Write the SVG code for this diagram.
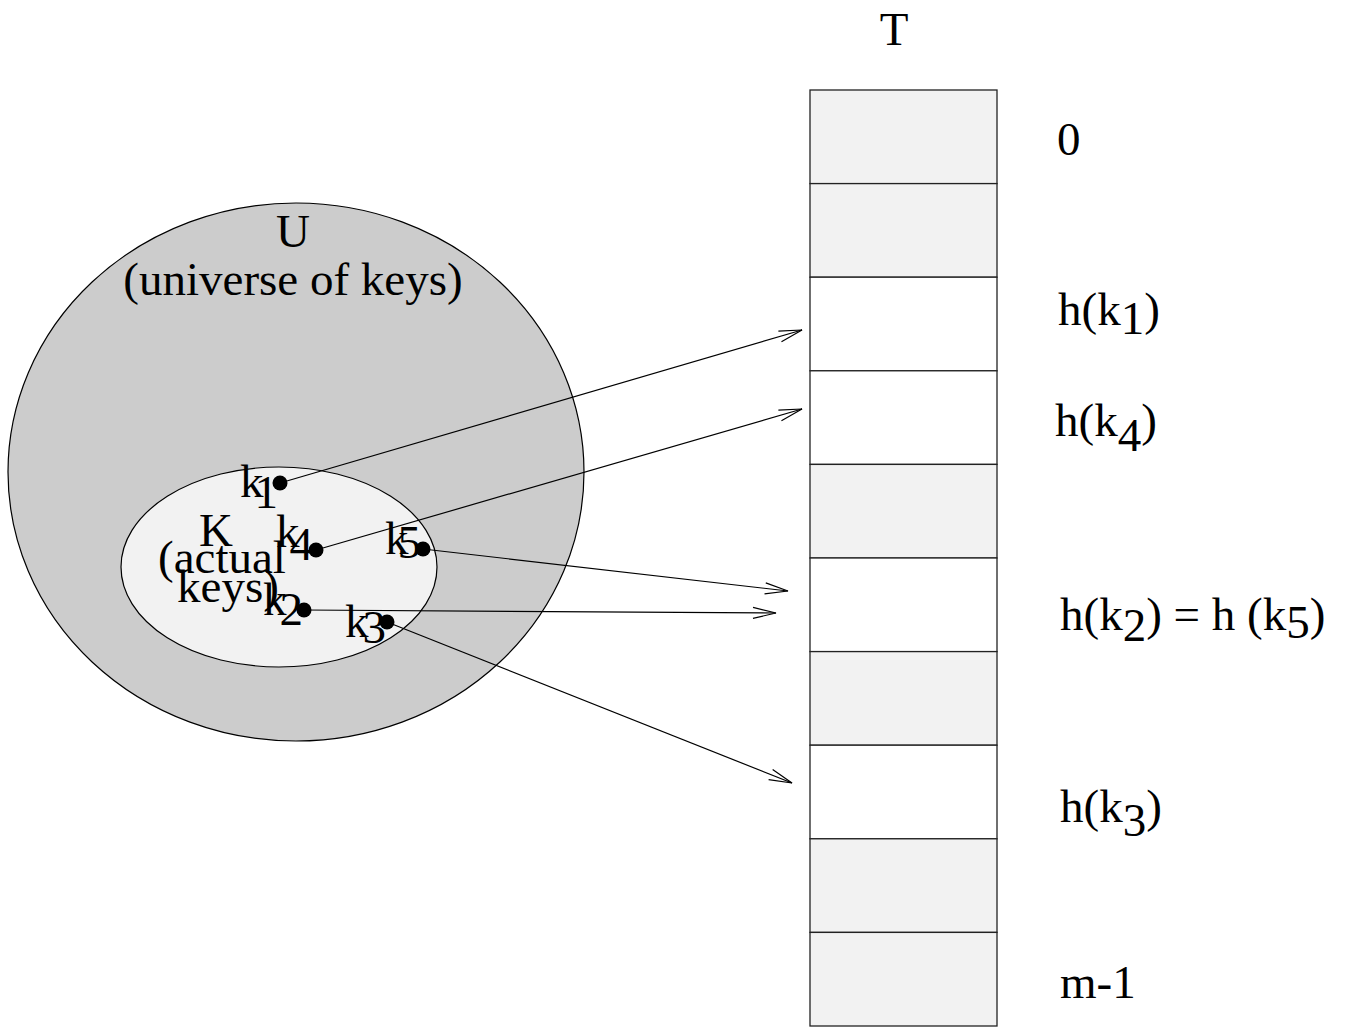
<svg xmlns="http://www.w3.org/2000/svg" width="1351" height="1028" viewBox="0 0 1351 1028">
  <style>
    text { font-family: "Liberation Serif", "Times New Roman", serif; font-size: 47px; fill: #000; }
    .cell { stroke: #222; stroke-width: 1.3; }
    .used { fill: #ffffff; }
    .empty { fill: #f2f2f2; }
    .dot { fill: #000; }
    .link { stroke: #000; stroke-width: 1.2; fill: none; marker-end: url(#open-arrow); }
  </style>
  <defs>
    <marker id="open-arrow" markerUnits="userSpaceOnUse" markerWidth="30" markerHeight="16" refX="0" refY="0" viewBox="-26 -8 30 16" orient="auto" overflow="visible">
      <path d="M-23,-5.5 L0,0 L-23,5.5" fill="none" stroke="#000" stroke-width="1.2"/>
    </marker>
  </defs>

  <rect width="1351" height="1028" fill="#ffffff"/>

  <!-- universe of keys -->
  <g id="universe">
    <ellipse cx="296" cy="472" rx="288" ry="269" fill="#cccccc" stroke="#000" stroke-width="1.2"/>
    <text x="293" y="247" text-anchor="middle">U</text>
    <text x="293" y="295" text-anchor="middle">(universe of keys)</text>
  </g>

  <!-- actual keys -->
  <g id="actual-keys">
    <ellipse cx="279" cy="567" rx="158" ry="100" fill="#f2f2f2" stroke="#000" stroke-width="1.2"/>
    <text text-anchor="middle"><tspan x="216" y="546">K</tspan><tspan x="222" y="573">(actual</tspan><tspan x="228" y="602">keys)</tspan></text>
  </g>

  <!-- individual keys -->
  <g id="key-k1">
    <text x="240" y="497">k<tspan dx="-9" dy="11">1</tspan></text>
    <circle class="dot" cx="280" cy="483" r="7.5"/>
  </g>
  <g id="key-k4">
    <text x="276" y="547">k<tspan dx="-10" dy="13">4</tspan></text>
    <circle class="dot" cx="316" cy="550" r="7.5"/>
  </g>
  <g id="key-k5">
    <text x="385" y="554">k<tspan dx="-11" dy="4">5</tspan></text>
    <circle class="dot" cx="423" cy="549" r="7.5"/>
  </g>
  <g id="key-k2">
    <text x="263" y="615">k<tspan dx="-7" dy="10">2</tspan></text>
    <circle class="dot" cx="304" cy="610" r="7.5"/>
  </g>
  <g id="key-k3">
    <text x="345" y="637">k<tspan dx="-6" dy="6">3</tspan></text>
    <circle class="dot" cx="387" cy="622" r="7.5"/>
  </g>

  <!-- hash table T -->
  <g id="table-T">
    <text x="894" y="45" text-anchor="middle">T</text>
    <g id="slot-0"><rect class="cell empty" x="810" y="90" width="187" height="93.6"/></g>
    <g id="slot-1"><rect class="cell empty" x="810" y="183.6" width="187" height="93.6"/></g>
    <g id="slot-2"><rect class="cell used" x="810" y="277.2" width="187" height="93.6"/></g>
    <g id="slot-3"><rect class="cell used" x="810" y="370.8" width="187" height="93.6"/></g>
    <g id="slot-4"><rect class="cell empty" x="810" y="464.4" width="187" height="93.6"/></g>
    <g id="slot-5"><rect class="cell used" x="810" y="558" width="187" height="93.6"/></g>
    <g id="slot-6"><rect class="cell empty" x="810" y="651.6" width="187" height="93.6"/></g>
    <g id="slot-7"><rect class="cell used" x="810" y="745.2" width="187" height="93.6"/></g>
    <g id="slot-8"><rect class="cell empty" x="810" y="838.8" width="187" height="93.6"/></g>
    <g id="slot-9"><rect class="cell empty" x="810" y="932.4" width="187" height="93.6"/></g>
  </g>

  <!-- slot labels -->
  <g id="slot-labels">
    <text x="1057" y="155">0</text>
    <text x="1058" y="325">h(k<tspan dy="9">1</tspan><tspan dy="-9">)</tspan></text>
    <text x="1055" y="436">h(k<tspan dy="15">4</tspan><tspan dy="-15">)</tspan></text>
    <text x="1060" y="630">h(k<tspan dy="11">2</tspan><tspan dy="-11">) = h (k</tspan><tspan dy="8">5</tspan><tspan dy="-8">)</tspan></text>
    <text x="1060" y="822">h(k<tspan dy="14">3</tspan><tspan dy="-14">)</tspan></text>
    <text x="1060" y="998">m-1</text>
  </g>

  <!-- hash mappings -->
  <g id="connectors">
    <line class="link" x1="280" y1="483" x2="802" y2="330"/>
    <line class="link" x1="316" y1="550" x2="802" y2="409"/>
    <line class="link" x1="423" y1="549" x2="788" y2="591"/>
    <line class="link" x1="304" y1="610" x2="776" y2="613"/>
    <line class="link" x1="387" y1="622" x2="792" y2="783"/>
  </g>
</svg>
